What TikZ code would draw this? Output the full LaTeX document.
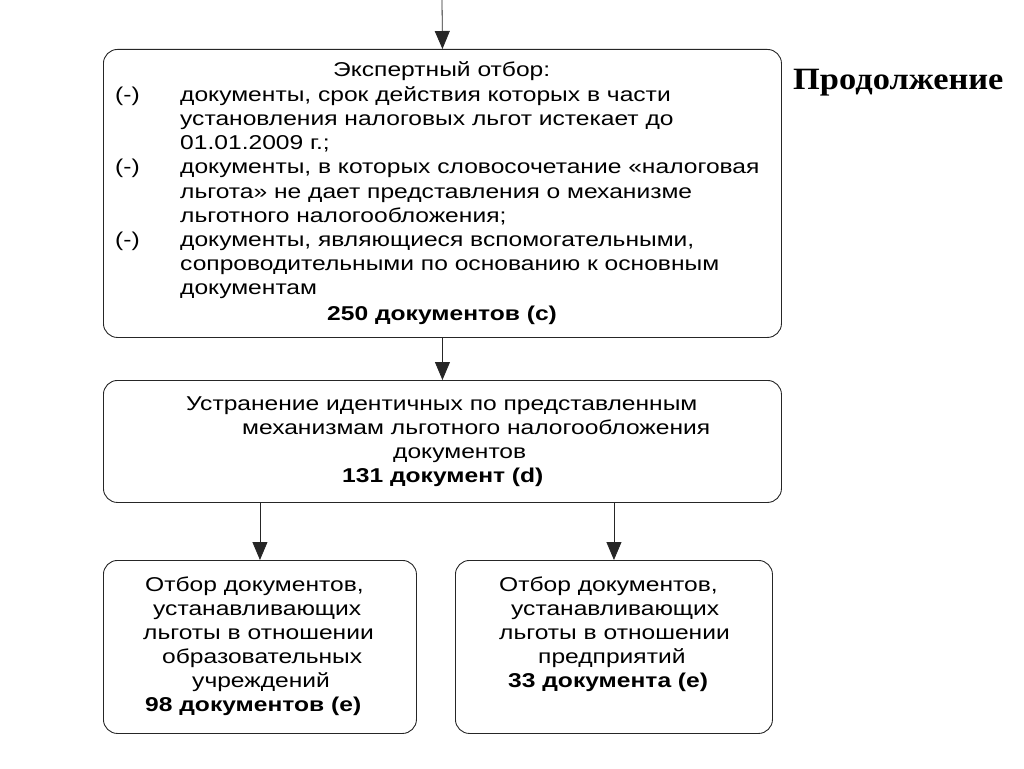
\documentclass[tikz,border=0pt]{standalone}
\usepackage{fontspec}
\setmainfont[FakeStretch=1.23]{Liberation Sans}
\newfontfamily\headfont[FakeStretch=1.11]{Liberation Serif}
\usetikzlibrary{arrows.meta}
\tikzset{
  box/.style={draw=black!85, rounded corners=14pt, line width=0.9pt, inner sep=0pt, anchor=north west},
  arr/.style={draw=black!85, line width=0.8pt, -{Triangle[width=15pt,length=18pt]}},
  tl/.style={inner sep=0pt, anchor=base west, font=\fontsize{20}{24}\selectfont},
  tb/.style={inner sep=0pt, anchor=base west, font=\fontsize{20}{24}\selectfont\bfseries},
}
\begin{document}
\begin{tikzpicture}[x=1pt,y=-1pt]
\useasboundingbox (0,0) rectangle (1024,768);
% boxes
\node[box, minimum width=678pt, minimum height=288pt] (b1) at (103,49) {};
\node[box, minimum width=678pt, minimum height=122pt] (b2) at (103,380) {};
\node[box, minimum width=313pt, minimum height=173pt] (b3) at (103,560) {};
\node[box, minimum width=317pt, minimum height=173pt] (b4) at (455,560) {};
% connectors
\coordinate (top) at (442,0);
\draw[arr] (top) -- (b1.north);
\draw[arr] (b1.south) -- (b2.north);
\draw[arr] (b3.north |- b2.south) -- (b3.north);
\draw[arr] (b4.north |- b2.south) -- (b4.north);
% box 1 text
\node[tl] (t0) at (333,77) {Экспертный отбор:};
\node[tl] (m1) at (115,101.2) {(-)};
\node[tl] (t1) at (180,101.2) {документы, срок действия которых в части};
\node[tl] (t2) at (180,125.4) {установления налоговых льгот истекает до};
\node[tl] (t3) at (180,149.6) {01.01.2009 г.;};
\node[tl] (m2) at (115,173.8) {(-)};
\node[tl] (t4) at (180,173.8) {документы, в которых словосочетание «налоговая};
\node[tl] (t5) at (180,198) {льгота» не дает представления о механизме};
\node[tl] (t6) at (180,222.2) {льготного налогообложения;};
\node[tl] (m3) at (115,246.4) {(-)};
\node[tl] (t7) at (180,246.4) {документы, являющиеся вспомогательными,};
\node[tl] (t8) at (180,270.6) {сопроводительными по основанию к основным};
\node[tl] (t9) at (180,294.8) {документам};
\node[tb] (t10) at (327,320) {250 документов (с)};
% box 2 text
\node[tl] (u1) at (186,410) {Устранение идентичных по представленным};
\node[tl] (u2) at (242,434) {механизмам льготного налогообложения};
\node[tl] (u3) at (393,458) {документов};
\node[tb] (u4) at (342,482) {131 документ (d)};
% box 3 text
\node[tl] (v1) at (145,591) {Отбор документов,};
\node[tl] (v2) at (153,615) {устанавливающих};
\node[tl] (v3) at (143,639) {льготы в отношении};
\node[tl] (v4) at (162,663) {образовательных};
\node[tl] (v5) at (192,687) {учреждений};
\node[tb] (v6) at (145,711) {98 документов (е)};
% box 4 text
\node[tl] (w1) at (499,591) {Отбор документов,};
\node[tl] (w2) at (511,615) {устанавливающих};
\node[tl] (w3) at (499,639) {льготы в отношении};
\node[tl] (w4) at (538,663) {предприятий};
\node[tb] (w5) at (508,687) {33 документа (е)};
% heading
\node[inner sep=0pt, anchor=base west, font=\headfont\bfseries\fontsize{31}{34}\selectfont] (cont) at (793,89) {Продолжение};
\end{tikzpicture}
\end{document}
